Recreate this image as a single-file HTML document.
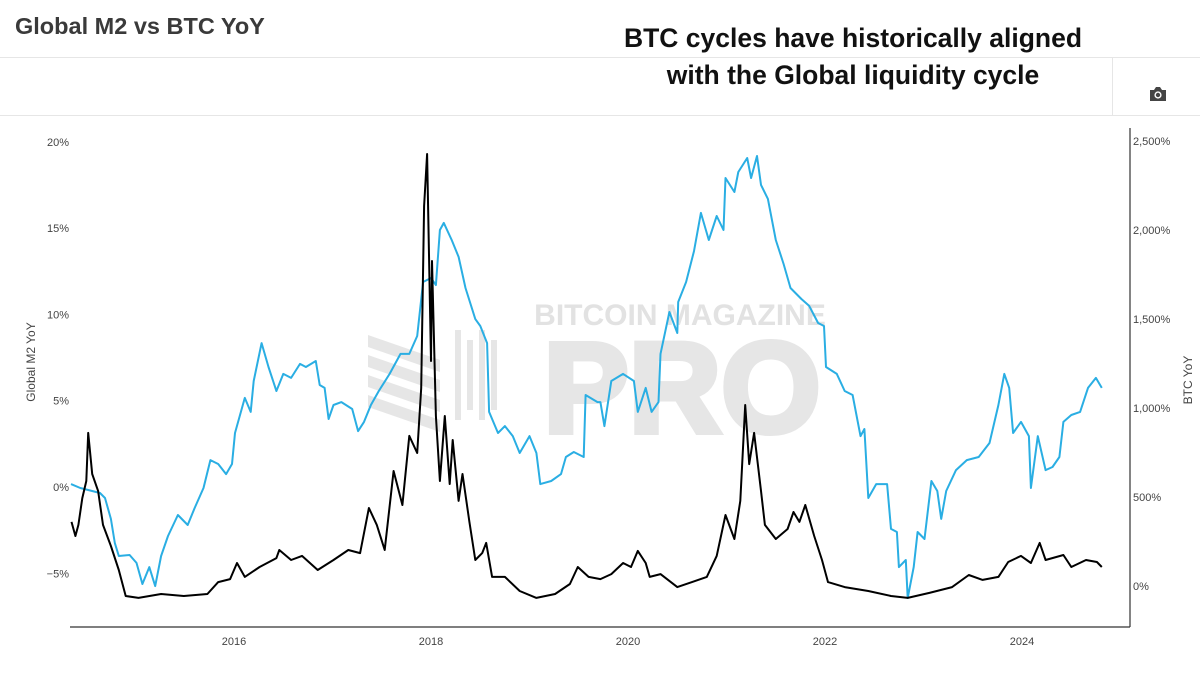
<!DOCTYPE html>
<html><head><meta charset="utf-8"><style>
html,body{margin:0;padding:0;background:#fff;width:1200px;height:675px;overflow:hidden;font-family:"Liberation Sans",sans-serif}
#hdr-line1{position:absolute;left:0;top:57px;width:1200px;height:1px;background:#e6e6e6}
#hdr-line2{position:absolute;left:0;top:115px;width:1200px;height:1px;background:#e6e6e6}
#hdr-vline{position:absolute;left:1112px;top:57px;width:1px;height:58px;background:#e6e6e6}
#title{position:absolute;left:15px;top:13px;font-size:23.5px;font-weight:bold;color:#3a3a3a}
#note{position:absolute;left:553px;top:20px;width:600px;text-align:center;font-size:26.5px;font-weight:bold;color:#111;line-height:37px}
#cam{position:absolute;left:1149px;top:86px}
svg{position:absolute;left:0;top:0}
</style></head><body>
<div id="title">Global M2 vs BTC YoY</div>
<div id="hdr-line1"></div>
<div id="hdr-line2"></div>
<div id="hdr-vline"></div>
<div id="note">BTC cycles have historically aligned<br>with the Global liquidity cycle</div>
<svg id="cam" width="18" height="16" viewBox="0 0 18 16"><path d="M1 4h4l2-3h4l2 3h4v11H1z" fill="#444"/><circle cx="9" cy="9" r="3.6" fill="#fff"/><circle cx="9" cy="9" r="2.2" fill="#444"/></svg>
<svg id="chart" width="1200" height="675"></svg>
<script>
const m2Years=[2014.345,2014.44,2014.64,2014.69,2014.75,2014.79,2014.83,2014.94,2015.01,2015.07,2015.14,2015.20,2015.26,2015.33,2015.43,2015.53,2015.60,2015.69,2015.76,2015.84,2015.92,2015.98,2016.01,2016.11,2016.17,2016.20,2016.28,2016.35,2016.43,2016.50,2016.58,2016.67,2016.73,2016.83,2016.87,2016.92,2016.96,2017.01,2017.09,2017.20,2017.26,2017.32,2017.39,2017.47,2017.58,2017.69,2017.78,2017.86,2017.92,2018.00,2018.05,2018.09,2018.13,2018.21,2018.28,2018.35,2018.45,2018.50,2018.57,2018.59,2018.68,2018.75,2018.83,2018.90,2019.00,2019.07,2019.11,2019.22,2019.32,2019.37,2019.45,2019.55,2019.57,2019.69,2019.72,2019.76,2019.83,2019.95,2020.06,2020.10,2020.18,2020.24,2020.31,2020.33,2020.42,2020.50,2020.51,2020.59,2020.67,2020.74,2020.82,2020.90,2020.97,2020.99,2021.08,2021.12,2021.21,2021.25,2021.31,2021.35,2021.42,2021.50,2021.58,2021.65,2021.76,2021.84,2021.93,2021.99,2022.01,2022.12,2022.20,2022.28,2022.36,2022.40,2022.44,2022.52,2022.63,2022.67,2022.73,2022.75,2022.82,2022.84,2022.90,2022.94,2023.01,2023.08,2023.14,2023.18,2023.23,2023.33,2023.44,2023.56,2023.67,2023.76,2023.82,2023.87,2023.91,2023.99,2024.07,2024.09,2024.16,2024.24,2024.31,2024.38,2024.42,2024.50,2024.59,2024.67,2024.75,2024.81];
const m2Values=[0.17,-0.06,-0.35,-0.64,-1.85,-3.24,-4.00,-3.94,-4.40,-5.62,-4.64,-5.74,-4.00,-2.84,-1.62,-2.20,-1.22,-0.06,1.56,1.33,0.75,1.33,3.13,5.16,4.35,6.14,8.34,6.95,5.56,6.55,6.32,7.13,6.95,7.30,5.91,5.74,3.94,4.75,4.92,4.52,3.24,3.77,4.75,5.56,6.55,7.71,7.71,8.75,11.88,12.11,11.70,14.89,15.30,14.31,13.33,11.53,9.73,9.33,8.34,4.35,3.13,3.53,2.95,1.97,2.95,1.97,0.17,0.35,0.75,1.74,2.03,1.74,5.33,4.92,4.92,3.53,6.14,6.55,6.14,4.35,5.74,4.35,4.92,7.71,10.14,8.92,10.72,11.88,13.67,15.88,14.31,15.70,14.89,17.90,17.09,18.25,19.06,17.90,19.18,17.50,16.69,14.31,12.92,11.53,10.89,10.49,9.50,9.33,6.95,6.55,5.56,5.33,2.95,3.36,-0.64,0.17,0.17,-2.43,-2.61,-4.64,-4.23,-6.43,-4.64,-2.61,-3.01,0.35,-0.23,-1.85,-0.23,0.98,1.56,1.74,2.55,4.75,6.55,5.74,3.13,3.77,2.95,-0.06,2.95,0.98,1.16,1.74,3.77,4.17,4.35,5.74,6.32,5.74];
const btcYears=[2014.35,2014.39,2014.42,2014.46,2014.50,2014.52,2014.56,2014.62,2014.67,2014.75,2014.83,2014.90,2015.03,2015.26,2015.49,2015.73,2015.84,2015.96,2016.03,2016.11,2016.26,2016.43,2016.46,2016.58,2016.69,2016.85,2017.01,2017.16,2017.28,2017.37,2017.45,2017.53,2017.62,2017.71,2017.78,2017.86,2017.90,2017.93,2017.96,2018.00,2018.01,2018.05,2018.09,2018.14,2018.19,2018.22,2018.28,2018.32,2018.39,2018.45,2018.52,2018.56,2018.62,2018.75,2018.90,2019.07,2019.26,2019.41,2019.49,2019.60,2019.72,2019.83,2019.95,2020.03,2020.10,2020.18,2020.22,2020.33,2020.50,2020.65,2020.80,2020.90,2020.99,2021.08,2021.14,2021.19,2021.23,2021.28,2021.35,2021.39,2021.50,2021.62,2021.68,2021.74,2021.80,2021.89,2021.97,2022.03,2022.20,2022.44,2022.67,2022.84,2023.06,2023.29,2023.46,2023.60,2023.76,2023.86,2023.99,2024.09,2024.18,2024.24,2024.42,2024.50,2024.65,2024.76,2024.81];
const btcValues=[360,281,343,494,590,860,629,534,343,225,90,-56,-67,-45,-56,-45,22,39,129,51,107,157,202,146,169,90,146,202,185,438,343,202,646,455,843,747,1112,2135,2427,1264,1826,955,590,955,573,820,478,629,360,146,185,242,51,51,-28,-67,-45,11,107,51,39,67,129,107,197,129,51,67,-6,22,51,169,399,264,478,1017,685,860,534,343,264,320,416,360,455,281,146,22,-6,-28,-56,-67,-39,-6,62,34,51,135,169,129,242,146,174,107,146,135,107];
const xTicks=[2016,2018,2020,2022,2024];
const leftTicks=[20,15,10,5,0,-5];
const leftTickLabels=["20%","15%","10%","5%","0%","−5%"];
const rightTicks=[2500,2000,1500,1000,500,0];
const rightTickLabels=["2,500%","2,000%","1,500%","1,000%","500%","0%"];

const X=yr=>234+(yr-2016)*98.5;
const YL=v=>487-v*17.26;
const YR=v=>586-v*0.178;
const NS="http://www.w3.org/2000/svg";
const svg=document.getElementById('chart');
function mk(tag,attrs,parent){const e=document.createElementNS(NS,tag);for(const k in attrs)e.setAttribute(k,attrs[k]);(parent||svg).appendChild(e);return e;}

const wm=mk('g',{});


const wt1=mk('text',{x:680,y:325,'font-size':30,'font-weight':'bold','text-anchor':'middle',fill:'#e2e2e2','font-family':'Liberation Sans, sans-serif'},wm);
wt1.textContent='BITCOIN MAGAZINE';
const wt2=mk('text',{x:682,y:432,'font-size':128,'font-weight':'bold','text-anchor':'middle',fill:'#e6e6e6',stroke:'#e6e6e6','stroke-width':6,'font-family':'Liberation Sans, sans-serif'},wm);
wt2.textContent='PRO';
for(let i=0;i<4;i++){mk('polygon',{points:`${368},${335+i*20} ${440},${360+i*20} ${440},${372+i*20} ${368},${347+i*20}`,fill:'#e6e6e6'},wm);}
for(let i=0;i<4;i++){mk('rect',{x:455+i*12,y:330+(i%2)*10,width:6,height:90-(i%2)*20,fill:'#e6e6e6'},wm);}

const ax=mk('line',{x1:70,y1:627,x2:1130,y2:627,stroke:'#333','stroke-width':1.2});


const ay=mk('line',{x1:1130,y1:128,x2:1130,y2:627,stroke:'#333','stroke-width':1.2});



xTicks.forEach(t=>{const e=mk('text',{x:X(t),y:645,'font-size':11,'text-anchor':'middle',fill:'#444'});e.textContent=String(t);

});
leftTicks.forEach((t,i)=>{const e=mk('text',{x:69,y:YL(t)+4,'font-size':11,'text-anchor':'end',fill:'#444'});e.textContent=leftTickLabels[i];

});
rightTicks.forEach((t,i)=>{const e=mk('text',{x:1133,y:YR(t)+4,'font-size':11,'text-anchor':'start',fill:'#444'});e.textContent=rightTickLabels[i];

});
const lt=mk('text',{x:0,y:0,'font-size':12,'text-anchor':'middle',fill:'#444',transform:'translate(35,362) rotate(-90)'});lt.textContent='Global M2 YoY';


const rt=mk('text',{x:0,y:0,'font-size':12,'text-anchor':'middle',fill:'#444',transform:'translate(1192,380) rotate(-90)'});rt.textContent='BTC YoY';



const m2=mk('path',{d:m2Years.map((y,i)=>(i?'L':'M')+X(y).toFixed(1)+','+YL(m2Values[i]).toFixed(1)).join(''),fill:'none',stroke:'#2aaee3','stroke-width':2,'stroke-linejoin':'round'});


const btc=mk('path',{d:btcYears.map((y,i)=>(i?'L':'M')+X(y).toFixed(1)+','+YR(btcValues[i]).toFixed(1)).join(''),fill:'none',stroke:'#000','stroke-width':2,'stroke-linejoin':'round'});


</script>
</body></html>
